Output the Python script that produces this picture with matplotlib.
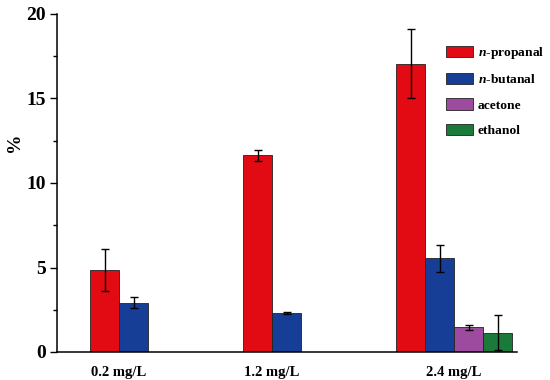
import matplotlib
matplotlib.use("Agg")
import matplotlib.pyplot as plt
import numpy as np

plt.rcParams['font.family'] = ['Liberation Serif', 'DejaVu Serif']
plt.rcParams['font.weight'] = 'bold'
plt.rcParams['mathtext.fontset'] = 'custom'
plt.rcParams['mathtext.it'] = 'Liberation Serif:bold:italic'
plt.rcParams['mathtext.rm'] = 'Liberation Serif:bold'
plt.rcParams['mathtext.bf'] = 'Liberation Serif:bold'

categories = ["0.2 mg/L", "1.2 mg/L", "2.4 mg/L"]
series = [r"$\mathit{n}$-propanal", r"$\mathit{n}$-butanal", "acetone", "ethanol"]
values = [
    [4.85, 11.65, 17.05],          # n-propanal
    [2.92, 2.30, 5.55],            # n-butanal
    [np.nan, np.nan, 1.45],        # acetone
    [np.nan, np.nan, 1.15],        # ethanol
]
errors = [
    [1.22, 0.33, 2.05],
    [0.33, 0.08, 0.80],
    [np.nan, np.nan, 0.12],
    [np.nan, np.nan, 1.05],
]
colors = ["#E30B13", "#173E96", "#9C4B9F", "#197A3A"]

fig = plt.figure(figsize=(5.5, 3.8), dpi=100)
ax = fig.add_axes([57/550, 28/380, 460/550, 338/380])

w = 29/153
x0 = np.arange(len(categories), dtype=float)
for i, (name, vals, errs, c) in enumerate(zip(series, values, errors, colors)):
    xs = x0 + i * w
    v = np.array(vals, dtype=float)
    e = np.array(errs, dtype=float)
    ax.bar(xs, np.where(np.isnan(v), 0.0, v), width=w, align='edge',
           color=c, edgecolor='#222222', linewidth=0.6, label=name)
    mask = ~np.isnan(v)
    ax.errorbar(xs[mask] + w/2, v[mask], yerr=e[mask], fmt='none', ecolor='black',
                elinewidth=1.0, capsize=3, capthick=1.0)

n_present = [int(sum(~np.isnan(np.array(values, dtype=float)[:, j]))) for j in range(len(categories))]
ticks = [x0[j] + n_present[j] * w / 2 for j in range(len(categories))]
ax.set_xticks(ticks)
ax.set_xticklabels(categories, fontsize=10.5, fontweight='bold')
ax.tick_params(axis='x', length=0, pad=10)

ax.set_xlim(-33/153, 2 + 121/153)
ax.set_ylim(0, 20)
ax.set_yticks([0, 5, 10, 15, 20])
ax.set_yticks([2.5, 7.5, 12.5, 17.5], minor=True)
ax.tick_params(axis='y', which='major', direction='out', length=5, width=1.0, labelsize=14, pad=3)
ax.tick_params(axis='y', which='minor', direction='out', length=3, width=1.0)
for lab in ax.get_yticklabels():
    lab.set_fontweight('bold')
ax.set_ylabel('%', fontsize=14, fontweight='bold')
ax.yaxis.set_label_coords((23-57)/460, (352-142)/338)

ax.spines['top'].set_visible(False)
ax.spines['right'].set_visible(False)
ax.spines['left'].set_linewidth(1.1)
ax.spines['bottom'].set_linewidth(1.1)

ax.legend(loc='upper left', bbox_to_anchor=((446-57)/460, (352-45)/338),
          frameon=False, handlelength=2.0, handleheight=0.9,
          handletextpad=0.35, labelspacing=0.9, borderpad=0, borderaxespad=0,
          prop={'weight': 'bold', 'size': 9.7})

fig.savefig("out.png", dpi=100)
